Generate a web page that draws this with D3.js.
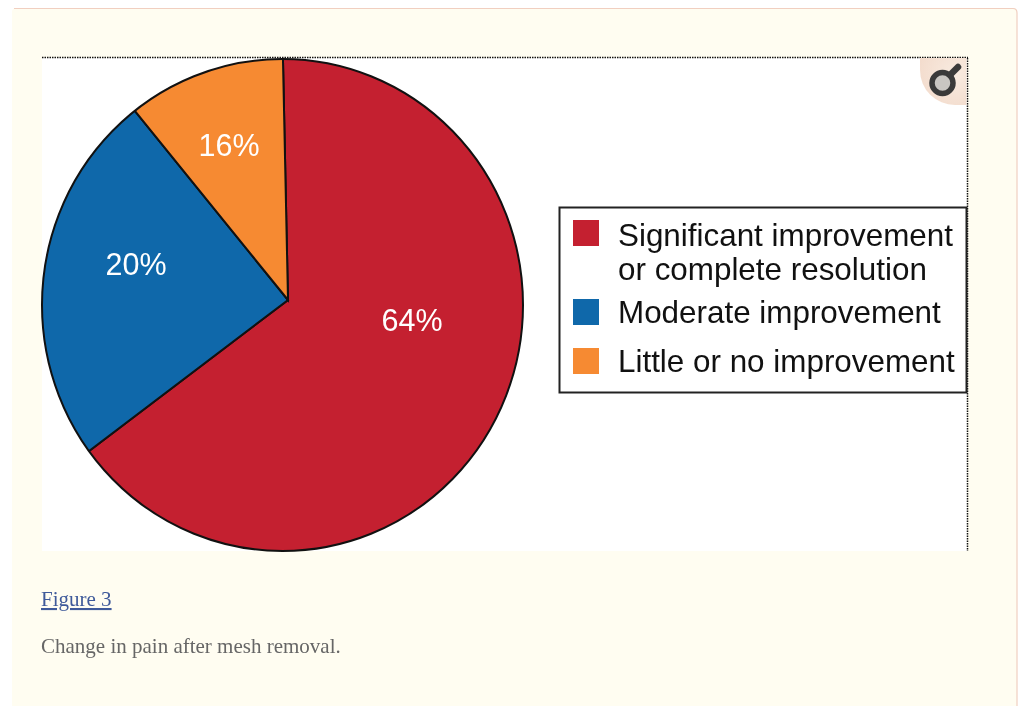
<!DOCTYPE html>
<html><head><meta charset="utf-8">
<script src="https://cdn.jsdelivr.net/npm/d3@7"></script>
<style>html,body{margin:0;padding:0;background:#fff;overflow:hidden}svg{display:block;filter:blur(0.45px)}</style>
</head><body><div id="chart"></div>
<script>
const categories = ["Significant improvement or complete resolution","Moderate improvement","Little or no improvement"];
const sliceShares = [65.0, 24.5, 10.5];
const printedLabels = ["64%","20%","16%"];
const sliceColors = ["#c42030","#0f68aa","#f68a32"];
const legendLines = [["Significant improvement","or complete resolution"],["Moderate improvement"],["Little or no improvement"]];
const caption = "Change in pain after mesh removal.";
const figureTitle = "Figure 3";

const svg = d3.select("#chart").append("svg").attr("width",1019).attr("height",706);
// page card
svg.append("rect").attr("x",12).attr("y",8).attr("width",1005).attr("height",710).attr("rx",4)
  .attr("fill","#fffdf1");
svg.append("path").attr("d","M14 8.5H1013Q1017 8.5 1017 13V706").attr("fill","none").attr("stroke","#f1cfc0").attr("stroke-width",1.2);
// figure panel
svg.append("rect").attr("x",42).attr("y",58).attr("width",925).attr("height",493).attr("fill","#fff");
const dash = "1.5 1";
svg.append("line").attr("x1",42).attr("x2",968).attr("y1",57.5).attr("y2",57.5).attr("stroke","#111").attr("stroke-width",1.5).attr("stroke-dasharray",dash);
svg.append("line").attr("x1",967.5).attr("x2",967.5).attr("y1",58).attr("y2",551).attr("stroke","#111").attr("stroke-width",1.5).attr("stroke-dasharray",dash);

// pie: slices radiate from an apex slightly off the ellipse centre, clipped to the ellipse
const ell = {cx:282.5,cy:305,rx:240.5,ry:246}, apex = [288,300];
const defs = svg.append("defs");
defs.append("clipPath").attr("id","pieClip").append("ellipse")
  .attr("cx",ell.cx).attr("cy",ell.cy).attr("rx",ell.rx).attr("ry",ell.ry);
const grad = defs.append("radialGradient").attr("id","badge").attr("cx","75%").attr("cy","35%").attr("r","80%");
grad.append("stop").attr("offset","0%").attr("stop-color","#f8ebe0");
grad.append("stop").attr("offset","100%").attr("stop-color","#f3dccd");
const startA = -1.2*Math.PI/180;
const pie = d3.pie().sort(null).startAngle(startA).endAngle(startA+2*Math.PI);
const arc = d3.arc().innerRadius(0).outerRadius(400);
const gPie = svg.append("g").attr("clip-path","url(#pieClip)").append("g").attr("transform",`translate(${apex})`);
gPie.selectAll("path").data(pie(sliceShares)).join("path")
  .attr("d",arc).attr("fill",(d,i)=>sliceColors[i]).attr("stroke","#111").attr("stroke-width",2);
svg.append("ellipse").attr("cx",ell.cx).attr("cy",ell.cy).attr("rx",ell.rx).attr("ry",ell.ry)
  .attr("fill","none").attr("stroke","#111").attr("stroke-width",2);
const labelPos = [[412,320],[136,264],[229,145]];
svg.selectAll("text.val").data(printedLabels).join("text").attr("class","val")
  .attr("x",(d,i)=>labelPos[i][0]).attr("y",(d,i)=>labelPos[i][1]).attr("dy","0.35em")
  .attr("text-anchor","middle").attr("fill","#fff")
  .style("font","30.5px 'Liberation Sans',Arial,sans-serif").text(d=>d);

// legend
svg.append("rect").attr("x",559.5).attr("y",207.5).attr("width",407).attr("height",185).attr("fill","#fff").attr("stroke","#222").attr("stroke-width",2);
const swatchY=[220,299,348], lineY=[[246,280],[323],[372]];
svg.selectAll("rect.sw").data(categories).join("rect").attr("class","sw")
  .attr("x",573).attr("y",(d,i)=>swatchY[i]).attr("width",26).attr("height",26).attr("fill",(d,i)=>sliceColors[i]);
legendLines.forEach((ls,i)=>ls.forEach((t,j)=>{
  svg.append("text").attr("x",618).attr("y",lineY[i][j]).attr("fill","#111")
    .style("font","31.4px 'Liberation Sans',Arial,sans-serif").text(t);
}));

// magnifier badge
svg.append("path").attr("d","M920 58H966.5V105H955A35 35 0 0 1 920 70Z").attr("fill","url(#badge)");
svg.append("circle").attr("cx",942.5).attr("cy",83).attr("r",10.5).attr("fill","#c9c6c2").attr("stroke","#3a3a3a").attr("stroke-width",5.5);
svg.append("line").attr("x1",950).attr("y1",75).attr("x2",958).attr("y2",67).attr("stroke","#3a3a3a").attr("stroke-width",6.5).attr("stroke-linecap","round");

// caption
svg.append("text").attr("x",41).attr("y",606).attr("fill","#3f5a9a").attr("text-decoration","underline")
  .style("font","21px 'Liberation Serif',serif").text(figureTitle);
svg.append("text").attr("x",41).attr("y",653).attr("fill","#666")
  .style("font","21px 'Liberation Serif',serif").text(caption);
</script></body></html>
